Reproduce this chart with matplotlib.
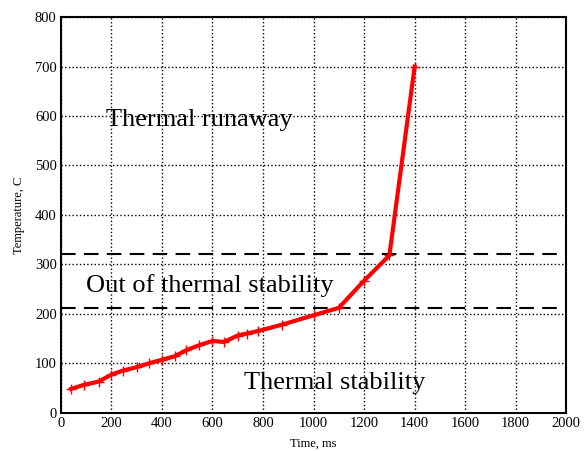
import numpy as np
import matplotlib.pyplot as plt

plt.rcParams['font.family'] = ['Liberation Serif', 'DejaVu Serif']

# measured heating curve
time_ms = [40, 90, 150, 200, 245, 300, 350, 400, 450, 495, 545, 600, 645,
           700, 735, 780, 875, 1000, 1100, 1200, 1300, 1400]
temp_c = [48, 56, 63, 77, 85, 92, 100, 107, 114, 126, 136, 145, 143,
          156, 160, 165, 178, 197, 212, 267, 318, 700]

# region boundaries
lower_limit = 212
upper_limit = 320

fig = plt.figure(figsize=(5.85, 4.51), dpi=100)
ax = fig.add_axes([0.104, 0.085, 0.864, 0.877])

ax.plot(time_ms, temp_c, color='#ff0000', linewidth=3, marker='+',
        markersize=7, markeredgewidth=1.0, zorder=3)

ax.axhline(lower_limit, color='black', linestyle=(0, (7, 4)), linewidth=1.5)
ax.axhline(upper_limit, color='black', linestyle=(0, (7, 4)), linewidth=1.5)

ax.text(178, 592, 'Thermal runaway', fontsize=19, va='center', ha='left')
ax.text(100, 258, 'Out of thermal stability', fontsize=19, va='center', ha='left')
ax.text(726, 60, 'Thermal stability', fontsize=19, va='center', ha='left')

ax.set_xlim(0, 2000)
ax.set_ylim(0, 800)
ax.set_xticks(np.arange(0, 2001, 200))
ax.set_yticks(np.arange(0, 801, 100))
ax.grid(True, color='black', linestyle=':', linewidth=1.0)
ax.tick_params(length=0, labelsize=10.5, pad=3)

for s in ax.spines.values():
    s.set_linewidth(1.5)
    s.set_color('black')

ax.set_xlabel('Time, ms', fontsize=9, labelpad=6)
ax.set_ylabel('Temperature, C', fontsize=9, labelpad=7)

fig.savefig('out.png', dpi=100)
